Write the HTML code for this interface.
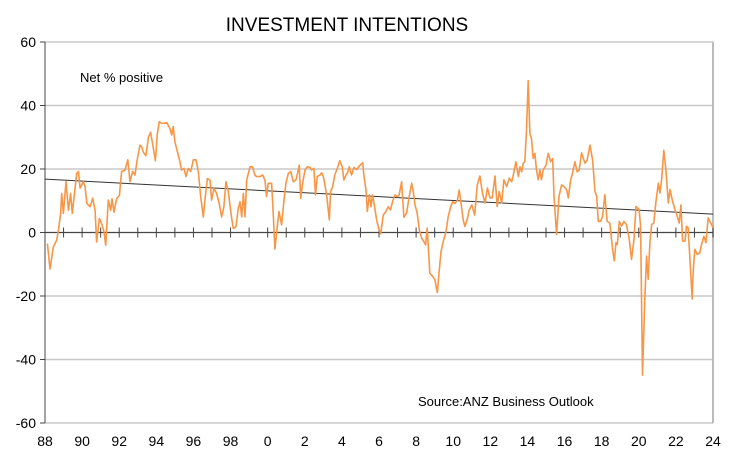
<!DOCTYPE html>
<html><head><meta charset="utf-8"><style>
body{margin:0;background:#fff;}
svg{display:block;font-family:"Liberation Sans",sans-serif;}
</style></head><body>
<svg id="chart" width="731" height="457">
<text x="347" y="31" font-size="19" text-anchor="middle" fill="#000">INVESTMENT INTENTIONS</text>
<text x="80" y="82" font-size="13" fill="#000">Net % positive</text>
<text x="418" y="406" font-size="13" fill="#000">Source:ANZ Business Outlook</text>
<g id="grid"></g><g id="axes"></g><g id="series"></g>
</svg>
<script>
const yTicks=[60,40,20,0,-20,-40,-60];
const xTickLabels=["88","90","92","94","96","98","0","2","4","6","8","10","12","14","16","18","20","22","24"];
const years=[88.13,88.27,88.45,88.63,88.72,88.84,88.90,88.99,89.13,89.26,89.38,89.47,89.58,89.71,89.80,89.89,90.07,90.16,90.25,90.43,90.57,90.70,90.78,90.93,91.05,91.18,91.27,91.41,91.54,91.61,91.72,91.86,92.01,92.13,92.31,92.46,92.58,92.72,92.85,92.98,93.12,93.21,93.30,93.44,93.57,93.69,93.80,93.95,94.05,94.16,94.29,94.41,94.56,94.73,94.83,94.91,95.00,95.18,95.27,95.36,95.49,95.60,95.72,95.85,96.00,96.14,96.26,96.39,96.53,96.62,96.75,96.89,96.98,97.11,97.25,97.39,97.52,97.64,97.75,97.88,98.06,98.15,98.29,98.42,98.51,98.60,98.69,98.78,98.87,99.05,99.19,99.31,99.40,
99.58,99.73,99.85,99.94,100.03,100.21,100.30,100.39,100.52,100.61,100.75,100.88,100.98,101.11,101.24,101.38,101.52,101.61,101.70,101.78,101.88,102.01,102.13,102.28,102.37,102.49,102.58,102.67,102.82,102.91,103.00,103.09,103.18,103.32,103.39,103.50,103.62,103.75,103.89,104.02,104.11,104.22,104.31,104.40,104.52,104.65,104.79,104.94,105.12,105.19,105.30,105.37,105.48,105.57,105.65,105.73,105.87,105.98,106.09,106.23,106.37,106.50,106.62,106.73,106.86,106.98,107.09,107.22,107.34,107.49,107.63,107.76,107.85,107.94,108.06,108.17,108.30,108.42,108.51,108.60,108.74,108.89,109.01,109.14,109.25,109.34,109.46,109.61,109.73,109.86,109.97,110.09,110.22,110.32,110.41,110.54,110.63,110.75,110.86,111.00,111.16,111.29,
111.44,111.58,111.71,111.84,111.98,112.10,112.25,112.37,112.48,112.61,112.73,112.88,113.02,113.15,113.24,113.38,113.51,113.60,113.69,113.77,113.86,113.95,114.04,114.13,114.22,114.31,114.40,114.49,114.58,114.67,114.76,114.85,115.00,115.12,115.25,115.36,115.43,115.57,115.70,115.84,115.97,116.11,116.20,116.33,116.43,116.56,116.68,116.79,116.92,117.01,117.10,117.22,117.37,117.51,117.64,117.73,117.82,117.94,118.05,118.17,118.30,118.44,118.59,118.68,118.77,118.84,118.95,119.07,119.20,119.34,119.49,119.61,119.74,119.85,120.02,120.10,120.20,120.33,120.42,120.51,120.60,120.69,120.81,120.92,121.05,121.14,121.23,121.35,121.46,121.59,121.68,121.82,121.95,122.07,122.18,122.27,122.36,122.49,122.57,122.66,122.79,122.88,122.93,123.02,123.15,123.29,123.38,123.51,123.62,123.74,123.87,124.01];
const values=[-3.5,-11.5,-4.5,-2.4,0.7,6,12.3,6,16,7,12.3,6,11.8,18.6,19.2,14,16,14.4,9.2,8.1,10.8,7,-3,4.4,2.8,0.2,-4,10.2,7,10.6,6.4,10.6,11.7,19.2,19.7,22.9,16,19.2,18.1,23.3,27.5,27,25.3,24.2,30,31.6,27.9,22.6,31,34.9,34.4,34.4,34.6,32.8,30.7,33.4,28.6,24.4,22.3,19.7,20.2,17.6,20.2,19.2,22.9,22.9,19.2,11.3,4.9,10.2,17,16.5,10.2,13.9,12.3,9.2,4.9,8.1,16,12.9,4.4,1.3,1.8,7.6,9.7,4.9,12.3,4.9,16.5,20.7,20.7,18.1,17.6,
17.6,18.1,16.5,11.3,15.5,15.5,6.1,-5.2,1.9,6.6,2.4,10.2,15.5,18.6,19.2,16,16.5,18.6,21.2,10.7,15.5,19.7,20.7,20.5,19.7,20.2,11.8,17.6,18.1,18.8,17.6,14.9,11.8,4,12.9,14.4,18.1,20.2,22.6,20.7,16.5,18.1,18.8,20.7,18.1,20.5,19.8,20.9,22,17.6,13.4,6.6,11.8,8.1,11.8,9.2,4,1.4,-0.4,5.5,6.6,8.1,7.1,9.7,11.8,11.3,11.8,16,4.8,6.1,11.3,15.5,12.9,8.7,6.1,0.8,-1.8,-2.9,-3.9,1.4,-12.8,-13.8,-14.9,-18.9,-11.8,-6,-2.9,0.3,5,8,9.7,9.2,10,13.4,9.7,4,1.9,4,7.1,8.7,5.5,14.9,
17.8,12.4,9.3,14,10.9,10.9,17.8,8.2,12.9,9.3,16.6,14.5,17.1,16,18.1,22.3,17.6,20.7,19.1,21.8,22.3,32.2,47.8,31.1,29.6,23.3,24.9,19.7,16.6,19.7,16.6,19.7,21.2,24.9,22.3,23.3,11.4,-0.6,11.4,15,14.5,13.5,10.9,16.6,18.6,22.3,19.1,19.7,25.1,23.3,21.8,22.8,27.5,22.8,12.9,11.4,3.5,3.5,5.1,11.9,3.5,3,-5.3,-8.9,-3.2,-3.8,3.5,2,3.5,2.5,-2.2,-8.5,-2.2,8.2,7.2,2,-44.9,-19.9,-7.4,-14.7,-3.2,2.5,3,9.3,15.5,12.4,16.6,25.9,19.7,9.3,13.5,9.9,7.2,5.1,3,8.7,-2.7,-2.7,2,1.5,-11.5,-20.9,-12.8,-5.3,-6.9,-6.4,-3.8,-1.2,-3.2,4.6,3,1.5];
const trendYears=[88,124];
const trendValues=[16.8,5.8];

const NS="http://www.w3.org/2000/svg";
const L=45,R=713,T=42,B=423;
const xS=y=>L+(y-88)*(R-L)/36;
const yS=v=>T+(60-v)*(B-T)/120;
function mk(tag,attrs,parent){const e=document.createElementNS(NS,tag);for(const k in attrs)e.setAttribute(k,attrs[k]);parent.appendChild(e);return e;}
const grid=document.getElementById('grid'),axes=document.getElementById('axes'),ser=document.getElementById('series');
yTicks.forEach(v=>{
  if(v!==0){const g=mk('line',{x1:L,x2:R,y1:yS(v),y2:yS(v),stroke:'#c8c8c8','stroke-width':1.5},grid);
  
  }
  const t=mk('line',{x1:L-5,x2:L,y1:yS(v),y2:yS(v),stroke:'#444'},axes);
  
  
  const tx=mk('text',{x:36,y:yS(v)+5,'font-size':14,'text-anchor':'end',fill:'#000'},axes);tx.textContent=v;
  
  
});
const rb=mk('line',{x1:R,x2:R,y1:T,y2:B,stroke:'#bbb','stroke-width':2},axes);


const ya=mk('line',{x1:L,x2:L,y1:T,y2:B,stroke:'#444'},axes);


const za=mk('line',{x1:L,x2:R,y1:yS(0),y2:yS(0),stroke:'#444','stroke-width':1.2},axes);


for(let y=89;y<=124;y++){const t=mk('line',{x1:xS(y),x2:xS(y),y1:yS(0)-5,y2:yS(0)+5,stroke:'#444'},axes);
  
  }
xTickLabels.forEach((lab,i)=>{const tx=mk('text',{x:xS(88+i*2),y:446,'font-size':14,'text-anchor':'middle',fill:'#000'},axes);tx.textContent=lab;
  
  });
const tl=mk('line',{x1:xS(trendYears[0]),y1:yS(trendValues[0]),x2:xS(trendYears[1]),y2:yS(trendValues[1]),stroke:'#333','stroke-width':1},ser);


const pts=years.map((y,i)=>xS(y).toFixed(1)+','+yS(values[i]).toFixed(1)).join(' ');
const pl=mk('polyline',{points:pts,fill:'none',stroke:'#f79646','stroke-width':1.6,'stroke-linejoin':'round'},ser);


</script>
</body></html>
